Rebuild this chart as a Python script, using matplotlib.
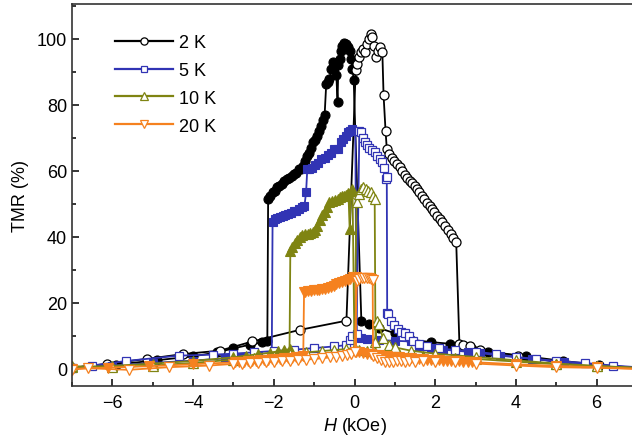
import matplotlib
matplotlib.use("Agg")
import matplotlib.pyplot as plt
from matplotlib.lines import Line2D
from matplotlib.ticker import MultipleLocator
import numpy as np

plt.rcParams['font.family'] = ['Liberation Sans', 'DejaVu Sans']
plt.rcParams['mathtext.fontset'] = 'custom'
plt.rcParams['mathtext.it'] = 'Liberation Sans:italic'
plt.rcParams['mathtext.rm'] = 'Liberation Sans'

# (H in kOe, TMR in %) ; "down" = sweep + -> - (filled), "up" = sweep - -> + (open)
k2_down = [(7.0, 0.3), (6.05, 1.2), (5.16, 2.4), (4.25, 3.8), (3.3, 5.1), (2.9, 6.0), (2.37, 7.6),
           (1.9, 8.1), (1.41, 8.8), (1.0, 10.8), (0.6, 12.4), (0.35, 13.6), (0.17, 14.5),
           (-0.02, 87.5), (-0.05, 91), (-0.08, 94), (-0.12, 96.5), (-0.16, 97.6), (-0.2, 98.5),
           (-0.25, 98.8), (-0.3, 98), (-0.34, 96.5), (-0.37, 94), (-0.4, 92), (-0.42, 81),
           (-0.45, 89), (-0.5, 91.5), (-0.54, 93), (-0.57, 91), (-0.62, 88), (-0.66, 87),
           (-0.7, 86.5), (-0.74, 77), (-0.78, 75.5), (-0.82, 73.6), (-0.87, 72), (-0.92, 70.6),
           (-0.97, 69.5), (-1.03, 68.8), (-1.08, 67), (-1.13, 65.5), (-1.17, 64.5), (-1.22, 63),
           (-1.27, 61.5), (-1.32, 60.6), (-1.38, 60.5), (-1.44, 59.5), (-1.5, 59), (-1.56, 58.5),
           (-1.62, 57.8), (-1.68, 57.6), (-1.74, 57), (-1.8, 56), (-1.86, 55.5), (-1.92, 55),
           (-1.98, 54), (-2.03, 53.6), (-2.09, 52.5), (-2.14, 51.5), (-2.16, 8.4), (-2.3, 8.0),
           (-2.6, 7.3), (-3.0, 6.2), (-3.4, 5.0), (-4.0, 3.8), (-4.9, 2.6), (-5.9, 1.3), (-7.0, 0.4)]
k2_up = [(-7.0, 0.3), (-6.14, 1.5), (-5.15, 3.0), (-4.24, 4.5), (-3.34, 5.5), (-2.53, 8.3),
         (-1.36, 11.8), (-0.2, 14.6), (0.03, 90.6), (0.07, 92.5), (0.12, 94.5), (0.17, 96),
         (0.22, 97), (0.27, 96), (0.31, 98.5), (0.36, 100), (0.4, 101.5), (0.44, 100.5),
         (0.49, 98), (0.54, 94.5), (0.59, 96.5), (0.64, 97.5), (0.69, 96), (0.72, 83), (0.77, 72),
         (0.8, 66.7), (0.86, 65.2), (0.92, 64), (0.98, 63), (1.05, 62), (1.12, 61.1), (1.18, 60),
         (1.25, 58.8), (1.31, 57.8), (1.37, 57), (1.43, 56.2), (1.49, 55.5), (1.55, 54.5),
         (1.61, 53.5), (1.67, 52.5), (1.73, 51.5), (1.8, 50.4), (1.86, 49.4), (1.92, 48.4),
         (1.98, 47.5), (2.05, 46.4), (2.12, 45.5), (2.18, 44.5), (2.25, 43.3), (2.32, 42),
         (2.38, 41), (2.45, 39.8), (2.52, 38.5), (2.6, 7.4), (2.7, 7.2), (2.85, 6.8), (3.1, 5.8),
         (4.05, 4.0), (5.0, 2.1), (6.03, 1.0), (7.0, 0.2)]

k5_down = [(7.0, 0.3), (6.0, 1.0), (5.2, 2.0), (4.4, 3.0), (3.6, 4.0), (3.1, 4.8), (2.8, 5.2),
           (2.5, 5.5), (2.2, 5.8), (1.9, 6.2), (1.6, 6.8), (1.4, 8.3), (1.0, 8.5), (0.6, 8.7),
           (0.3, 8.9), (0.15, 9.4), (0.05, 9.8), (0.02, 72), (-0.05, 72.6), (-0.1, 72.2),
           (-0.16, 71.8), (-0.22, 70.6), (-0.28, 69.8), (-0.34, 68.8), (-0.42, 66.7), (-0.5, 66.5),
           (-0.58, 65.5), (-0.66, 64.8), (-0.74, 64), (-0.82, 63.6), (-0.9, 62.5), (-0.98, 61.8),
           (-1.06, 61), (-1.13, 60.6), (-1.17, 60.5), (-1.2, 53.5), (-1.24, 49.4), (-1.3, 49),
           (-1.37, 48.5), (-1.44, 48), (-1.5, 47.9), (-1.57, 47.2), (-1.64, 46.8), (-1.71, 46.5),
           (-1.78, 46.2), (-1.85, 46), (-1.92, 45.8), (-1.98, 45.5), (-2.03, 44.5), (-2.05, 4.0),
           (-2.4, 3.8), (-2.8, 3.5), (-3.2, 3.2), (-4.0, 2.5), (-5.0, 1.8), (-6.0, 1.0), (-7.0, 0.3)]
k5_up = [(-7.0, 0.3), (-6.5, 1.0), (-5.65, 2.4), (-4.35, 4.0), (-3.5, 4.3), (-3.0, 4.6),
         (-2.5, 5.0), (-2.0, 5.4), (-1.5, 5.8), (-1.0, 6.3), (-0.5, 6.8), (-0.2, 7.2), (-0.12, 8.6),
         (-0.05, 10.0), (0.05, 10.6), (0.12, 72.2), (0.17, 71.8), (0.22, 70), (0.27, 68.8),
         (0.32, 68), (0.37, 67), (0.44, 66.3), (0.5, 65.7), (0.56, 64.5), (0.62, 63.6),
         (0.68, 62.7), (0.73, 61), (0.77, 57.6), (0.8, 58.2), (0.81, 17.0), (0.84, 16.5),
         (0.9, 14.5), (0.98, 13.2), (1.07, 12), (1.16, 11.3), (1.24, 11), (1.35, 10), (1.45, 8.5),
         (1.6, 7.5), (1.8, 6.8), (2.1, 6.2), (2.5, 5.7), (3.0, 5.2), (3.5, 4.5), (4.0, 3.6),
         (4.5, 3.0), (5.0, 2.4), (5.7, 1.8), (6.4, 1.0), (7.0, 0.5)]

k10_down = [(7.0, 0.3), (6.0, 0.8), (5.0, 1.4), (4.0, 2.2), (3.0, 3.0), (2.5, 3.4), (2.0, 3.8),
            (1.7, 4.0), (1.4, 4.3), (1.1, 4.6), (0.8, 4.9), (0.5, 5.2), (0.3, 5.5), (0.12, 5.8),
            (0.0, 6.0), (-0.05, 54.5), (-0.09, 53.8), (-0.12, 42.4), (-0.15, 53.2), (-0.2, 52.8),
            (-0.25, 52.4), (-0.3, 52.4), (-0.36, 52), (-0.42, 51.5), (-0.48, 51.2), (-0.55, 51),
            (-0.62, 50.6), (-0.68, 49.2), (-0.74, 47.6), (-0.8, 46.6), (-0.86, 45), (-0.92, 43.2),
            (-0.98, 42.2), (-1.04, 41.5), (-1.1, 41.2), (-1.16, 41), (-1.22, 40.8), (-1.29, 40.5),
            (-1.36, 40.0), (-1.42, 39), (-1.48, 38), (-1.54, 37), (-1.59, 35.8), (-1.61, 6.0),
            (-1.75, 5.6), (-1.9, 5.3), (-2.1, 4.9), (-2.4, 4.4), (-2.7, 4.0), (-3.0, 3.5),
            (-4.0, 2.4), (-5.0, 1.6), (-6.0, 0.9), (-7.0, 0.5)]
k10_up = [(-7.0, 0.8), (-6.0, 0.5), (-5.0, 1.0), (-4.0, 1.8), (-3.0, 2.8), (-2.5, 3.4),
          (-2.0, 3.9), (-1.6, 4.4), (-1.2, 5.0), (-0.8, 5.4), (-0.5, 5.7), (-0.2, 6.0), (0.0, 6.3),
          (0.05, 50.6), (0.1, 53), (0.16, 54.5), (0.22, 55), (0.28, 54.5), (0.34, 54), (0.4, 53.5),
          (0.45, 52.5), (0.5, 51.5), (0.52, 8.0), (0.55, 14.5), (0.6, 13.6), (0.7, 9.5),
          (0.85, 7.2), (1.0, 6.5), (1.4, 5.5), (2.0, 4.6), (3.0, 3.6), (4.0, 2.6), (5.0, 1.6),
          (6.0, 0.9), (7.0, 0.3)]

k20_down = [(7.0, 0.0), (6.0, 0.5), (5.0, 0.9), (4.0, 1.4), (3.0, 2.0), (2.9, 2.1), (2.8, 2.1),
            (2.7, 2.2), (2.6, 2.3), (2.5, 2.3), (2.4, 2.4), (2.3, 2.5), (2.2, 2.5), (2.1, 2.6),
            (2.0, 2.7), (1.9, 2.8), (1.8, 2.8), (1.7, 2.9), (1.6, 3.0), (1.5, 3.1), (1.4, 3.2),
            (1.3, 3.3), (1.2, 3.4), (1.1, 3.5), (1.0, 3.6), (0.9, 3.7), (0.8, 3.8), (0.7, 3.9),
            (0.6, 4.1), (0.5, 4.2), (0.4, 4.4), (0.3, 4.6), (0.2, 4.8), (0.1, 5.0), (0.04, 5.2),
            (0.03, 27.9), (-0.03, 27.8), (-0.1, 27.2), (-0.17, 26.9), (-0.24, 26.6), (-0.31, 26.3),
            (-0.38, 26.0), (-0.45, 25.8), (-0.52, 25.2), (-0.59, 24.8), (-0.66, 24.5),
            (-0.73, 24.3), (-0.8, 24.2), (-0.87, 24.0), (-0.94, 23.9), (-1.01, 23.8),
            (-1.08, 23.6), (-1.15, 23.5), (-1.22, 23.3), (-1.25, 23.3), (-1.27, 3.8),
            (-1.35, 3.6), (-1.45, 3.5), (-1.55, 3.4), (-1.65, 3.3), (-1.75, 3.2), (-1.85, 3.1),
            (-1.95, 3.0), (-2.05, 2.9), (-2.15, 2.8), (-2.25, 2.7), (-2.35, 2.6), (-2.45, 2.5),
            (-2.55, 2.4), (-2.65, 2.3), (-2.75, 2.2), (-2.85, 2.1), (-2.95, 2.0), (-4.0, 1.4),
            (-5.1, 0.8), (-6.1, 0.4), (-7.0, 0.0)]
k20_up = [(-7.0, -0.2), (-6.6, 0.2), (-5.6, -0.3), (-4.6, 0.5), (-3.6, 1.0), (-3.0, 1.5),
          (-2.8, 1.6), (-2.6, 1.8), (-2.4, 1.9), (-2.2, 2.0), (-2.0, 2.2), (-1.8, 2.3),
          (-1.6, 2.5), (-1.4, 2.6), (-1.2, 2.8), (-1.0, 3.0), (-0.8, 3.2), (-0.6, 3.5),
          (-0.45, 3.7), (-0.3, 4.0), (-0.18, 4.3), (-0.08, 4.6), (0.0, 5.0), (0.06, 26.5),
          (0.12, 27.3), (0.18, 27.5), (0.24, 27.6), (0.3, 27.6), (0.36, 27.4), (0.42, 27.2),
          (0.45, 27.0), (0.46, 4.0), (0.55, 3.2), (0.65, 2.6), (0.75, 2.2), (0.85, 2.0),
          (0.95, 2.1), (1.05, 2.3), (1.15, 2.4), (1.25, 2.2), (1.35, 2.3), (1.5, 2.2), (1.7, 2.3),
          (2.0, 2.2), (2.5, 2.0), (3.0, 1.6), (4.0, 1.0), (5.0, 0.5), (6.0, 0.3), (7.0, 0.0)]

labels = ['2 K', '5 K', '10 K', '20 K']
colors = ['#000000', '#3134b4', '#7f8412', '#f5811f']
markers = ['o', 's', '^', 'v']
sizes = [6.5, 5.6, 6.6, 6.6]
branches = [(k2_down, k2_up), (k5_down, k5_up), (k10_down, k10_up), (k20_down, k20_up)]

fig = plt.figure(figsize=(6.32, 4.39), dpi=100)
ax = fig.add_axes([72 / 632, 52 / 439, 565 / 632, 382 / 439])

for (down, up), c, m, s in zip(branches, colors, markers, sizes):
    hd, rd = np.array(down).T
    hu, ru = np.array(up).T
    ax.plot(hd, rd, color=c, lw=1.3, marker=m, ms=s, mfc=c, mec=c, mew=0.8)
    ax.plot(hu, ru, color=c, lw=1.3, marker=m, ms=s, mfc='white', mec=c, mew=0.9)

ax.set_xlim(-7, 7)
ax.set_ylim(-5.2, 110.6)
ax.xaxis.set_major_locator(MultipleLocator(2))
ax.xaxis.set_minor_locator(MultipleLocator(1))
ax.yaxis.set_major_locator(MultipleLocator(20))
ax.yaxis.set_minor_locator(MultipleLocator(10))
ax.tick_params(which='both', direction='in', labelsize=13, width=1.1)
ax.tick_params(which='major', length=5)
ax.tick_params(which='minor', length=3)
ax.tick_params(axis='x', pad=6)
for sp in ax.spines.values():
    sp.set_linewidth(1.2)
    sp.set_color('#333333')

ax.set_xlabel(r'$H$ (kOe)', fontsize=13, labelpad=3)
ax.set_ylabel('TMR (%)', fontsize=13, labelpad=6)

handles = [Line2D([], [], color=c, lw=1.6, marker=m, ms=s * 0.8, mfc='white', mec=c, mew=0.9)
           for c, m, s in zip(colors, markers, sizes)]
ax.legend(handles, labels, loc='upper left', bbox_to_anchor=(0.064, 0.94), frameon=False,
          fontsize=13, handlelength=3.2, handletextpad=0.3, labelspacing=0.6, borderaxespad=0)

fig.savefig('out.png', dpi=100)
